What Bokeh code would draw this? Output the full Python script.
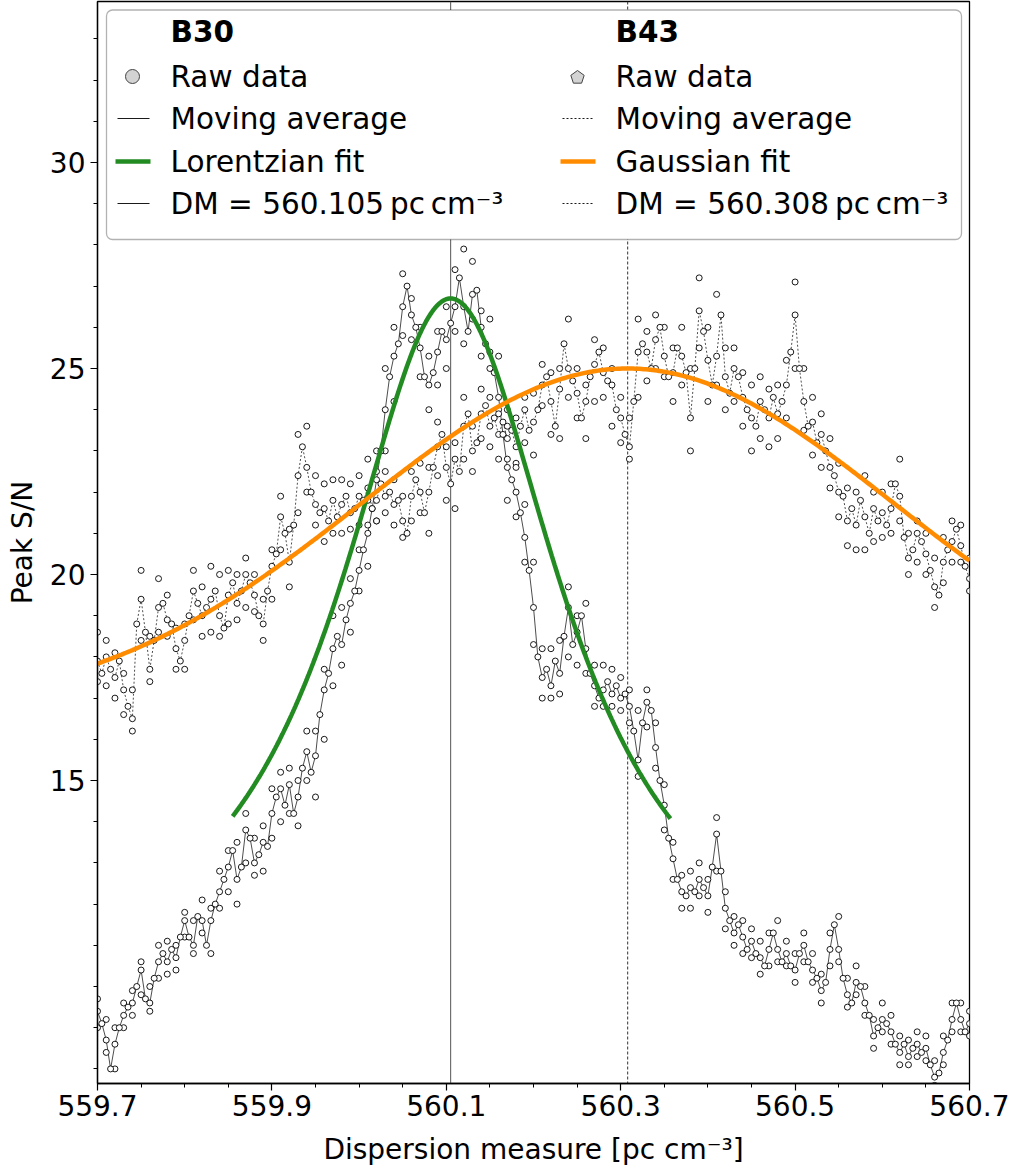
import numpy as np
from bokeh.plotting import figure
from bokeh.models import (FixedTicker, PrintfTickFormatter, Span, BoxAnnotation,
                          Label, Range1d)
from bokeh.embed import file_html
from bokeh.resources import INLINE

# ---------------- data ----------------
DM_START = 559.7
DM_STEP = 0.005      # step of the traced raw-data values
ENV_STEP = 0.01      # step of the read upper / lower edges of the point clouds

b30_snr = [
    9.4, 9.1, 8.7, 8.0, 8.6, 9.0, 9.3, 9.5, 9.6, 10.0,
    10.4, 9.7, 9.6, 10.2, 10.6, 10.8, 10.6, 10.9, 10.7, 11.2,
    11.6, 11.2, 11.0, 11.7, 11.6, 11.0, 11.6, 12.0, 12.3, 12.6,
    12.9, 13.3, 12.6, 12.9, 13.8, 13.6, 13.0, 13.2, 13.5, 13.4,
    14.2, 14.6, 14.8, 14.4, 14.9, 14.2, 14.6, 15.3, 15.7, 15.2,
    15.6, 16.6, 17.2, 17.6, 18.2, 18.5, 18.3, 18.9, 19.3, 19.6,
    20.1, 20.6, 21.0, 21.6, 22.3, 23.0, 24.0, 24.8, 25.3, 25.6,
    26.5, 27.0, 26.3, 26.0, 25.5, 24.8, 24.6, 24.9, 25.4, 25.9,
    25.7, 26.1, 26.5, 27.2, 26.5, 25.9, 26.8, 26.9, 26.0, 25.6,
    25.4, 24.9, 24.3, 23.4, 22.6, 22.3, 22.0, 21.5, 20.9, 20.1,
    19.2, 18.0, 17.5, 17.7, 17.3, 17.9, 17.6, 18.5, 19.2, 18.3,
    18.6, 19.0, 18.2, 17.6, 17.3, 17.0, 17.2, 17.4, 17.1, 17.3,
    17.0, 17.1, 16.8, 16.2, 15.5, 16.4, 16.9, 16.7, 15.8, 15.0,
    14.4, 13.6, 13.1, 12.6, 12.3, 12.2, 12.4, 12.3, 12.6, 12.4,
    12.2, 12.9, 13.7, 12.8, 11.9, 11.6, 11.3, 11.5, 11.2, 10.9,
    11.1, 10.8, 10.7, 10.5, 10.9, 11.3, 10.9, 10.6, 10.8, 10.5,
    10.4, 10.8, 11.0, 10.6, 10.4, 10.2, 9.9, 10.1, 10.9, 11.5,
    10.9, 10.2, 9.8, 9.6, 10.1, 10.0, 9.6, 9.3, 8.8, 9.0,
    9.2, 9.1, 8.9, 8.6, 8.4, 8.6, 8.3, 8.5, 8.6, 8.4,
    8.5, 8.1, 7.8, 7.9, 8.4, 8.7, 9.2, 9.6, 9.2, 8.9, 9.1,
]

b43_snr = [
    17.9, 17.6, 18.0, 17.7, 17.5, 17.9, 17.2, 16.8, 16.5, 18.8,
    19.4, 18.6, 17.7, 18.4, 19.2, 19.3, 18.9, 18.8, 18.2, 17.9,
    18.4, 19.0, 19.6, 19.3, 19.0, 19.2, 19.4, 19.6, 19.0, 18.7,
    19.5, 19.8, 19.3, 19.6, 20.0, 19.8, 19.5, 19.0, 18.8, 19.6,
    20.2, 20.5, 21.4, 21.0, 20.3, 21.2, 22.4, 23.1, 22.6, 22.0,
    21.7, 21.5, 21.6, 21.3, 21.8, 21.4, 21.7, 21.9, 21.5, 21.6,
    21.9, 21.8, 22.1, 21.6, 21.8, 22.2, 21.9, 22.0, 21.7, 21.8,
    21.3, 21.0, 21.9, 22.3, 22.0, 21.5, 22.0, 22.6, 23.1, 23.4,
    22.6, 22.2, 22.8, 22.5, 23.6, 23.9, 23.0, 23.2, 23.9, 24.1,
    23.6, 23.8, 23.4, 23.7, 23.3, 23.5, 23.1, 23.6, 24.0, 23.5,
    23.7, 24.0, 24.6, 24.8, 24.2, 23.6, 24.5, 25.6, 25.0, 24.7,
    24.4, 23.8, 24.2, 24.8, 25.1, 25.4, 24.9, 24.7, 24.6, 24.0,
    23.8, 23.4, 23.1, 24.2, 25.4, 25.6, 25.4, 25.0, 25.7, 26.0,
    25.3, 24.8, 24.9, 25.5, 25.3, 24.9, 23.8, 25.0, 26.4, 25.9,
    25.2, 24.6, 25.3, 26.3, 24.8, 24.4, 25.0, 24.8, 24.3, 24.0,
    23.8, 23.6, 24.2, 24.0, 23.8, 24.3, 23.9, 24.2, 24.6, 25.4,
    26.3, 25.0, 24.2, 23.6, 23.7, 23.2, 23.4, 23.0, 22.6, 22.4,
    22.0, 21.9, 21.3, 21.6, 21.2, 21.8, 21.4, 21.0, 21.6, 21.3,
    21.5, 21.2, 21.6, 22.2, 21.9, 20.9, 20.4, 20.6, 21.0, 20.8,
    20.5, 20.1, 19.7, 19.5, 20.3, 20.6, 20.8, 21.1, 20.7, 20.2, 19.9,
]

# upper and lower edges of the B30 point cloud, every 0.01
b30_hi = [
    9.7, 9.2, 9.0, 9.6, 9.9, 10.6, 10.0, 11.0, 11.1, 11.0,
    11.8, 11.6, 12.1, 11.9, 12.8, 13.3, 13.5, 14.2, 13.6, 13.9,
    14.8, 15.2, 15.3, 15.0, 16.2, 16.2, 17.7, 19.0, 19.2, 19.9,
    20.6, 21.8, 23.0, 25.0, 26.0, 27.3, 26.7, 26.0, 25.3, 25.9,
    26.5, 27.4, 27.9, 27.6, 26.4, 26.2, 25.3, 23.6, 22.6, 21.7,
    20.3, 18.2, 18.2, 18.4, 19.7, 19.0, 19.3, 17.8, 17.8, 17.7,
    17.5, 17.2, 16.7, 17.2, 16.4, 14.9, 13.5, 12.7, 12.8, 13.0,
    12.6, 14.1, 12.3, 11.7, 11.6, 11.4, 11.1, 11.3, 11.6, 11.1,
    10.8, 11.3, 10.8, 10.3, 11.3, 11.7, 10.2, 10.5, 10.0, 9.2,
    9.6, 9.3, 8.8, 8.7, 8.9, 8.8, 8.2, 8.8, 9.6, 9.6, 9.4,
]
b30_lo = [
    9.0, 8.4, 8.0, 9.0, 9.3, 9.8, 9.4, 10.2, 10.3, 10.4,
    11.2, 10.8, 11.3, 10.8, 11.9, 12.3, 12.0, 13.0, 12.7, 12.8,
    13.6, 14.0, 14.2, 13.9, 15.0, 14.6, 16.0, 17.3, 17.8, 18.6,
    19.6, 20.2, 21.3, 23.0, 24.2, 25.8, 25.7, 24.8, 24.0, 24.6,
    25.0, 25.9, 25.6, 26.2, 25.3, 25.0, 23.9, 21.8, 21.4, 20.3,
    18.3, 17.0, 17.0, 17.1, 18.0, 17.8, 17.6, 16.8, 16.8, 16.8,
    16.7, 16.4, 15.1, 16.3, 15.3, 13.8, 12.6, 11.9, 11.9, 12.2,
    11.8, 12.8, 11.4, 11.0, 10.8, 10.7, 10.3, 10.5, 10.6, 10.5,
    10.1, 10.6, 10.1, 9.6, 10.5, 10.6, 9.5, 9.8, 9.3, 8.5,
    8.9, 8.6, 8.1, 8.1, 8.3, 8.2, 7.6, 8.1, 8.9, 8.9, 8.8,
]
# upper and lower edges of the B43 point cloud, every 0.01
b43_hi = [
    18.6, 18.4, 18.1, 17.6, 17.2, 20.1, 18.5, 19.9, 19.5, 18.7,
    18.8, 20.1, 19.7, 20.2, 20.0, 20.1, 20.0, 20.4, 20.0, 19.4,
    20.6, 21.9, 21.1, 23.4, 23.6, 22.4, 22.2, 22.3, 22.3, 22.2,
    22.4, 22.8, 22.5, 22.5, 22.3, 21.9, 22.5, 22.7, 22.6, 23.7,
    23.1, 23.2, 24.3, 23.6, 24.5, 24.3, 24.0, 24.0, 23.8, 24.3,
    24.4, 25.1, 24.9, 25.0, 26.2, 25.0, 24.6, 25.7, 25.5, 25.0,
    24.3, 23.8, 26.2, 25.9, 26.3, 26.0, 25.5, 26.0, 25.0, 27.2,
    26.0, 26.8, 25.5, 25.5, 24.9, 24.6, 24.8, 24.5, 24.6, 25.2,
    27.1, 25.0, 24.3, 23.9, 23.3, 22.7, 22.1, 22.0, 22.4, 22.0,
    22.0, 22.2, 22.8, 21.0, 21.3, 21.0, 20.4, 20.9, 21.3, 21.2, 20.4,
]
b43_lo = [
    17.4, 17.3, 17.0, 16.6, 16.2, 18.4, 17.4, 18.6, 18.5, 17.7,
    17.7, 18.9, 18.5, 18.6, 18.5, 18.8, 18.9, 19.2, 19.1, 18.4,
    19.4, 20.6, 19.7, 21.5, 22.0, 21.2, 20.8, 21.0, 21.0, 21.1,
    21.2, 21.2, 21.3, 21.5, 21.2, 20.9, 21.3, 21.5, 21.0, 22.4,
    21.8, 21.6, 22.8, 22.5, 23.3, 23.1, 22.8, 22.8, 22.7, 23.2,
    22.9, 24.1, 23.4, 23.3, 24.3, 23.8, 23.3, 24.2, 24.3, 23.6,
    23.2, 22.8, 24.3, 24.7, 25.0, 24.8, 24.2, 24.6, 23.0, 25.5,
    24.2, 24.6, 24.0, 24.2, 23.6, 23.0, 23.3, 23.1, 23.3, 23.8,
    25.0, 23.5, 22.9, 22.6, 22.1, 21.4, 20.7, 20.6, 20.6, 20.8,
    20.9, 21.0, 21.3, 20.0, 20.3, 20.0, 19.2, 19.8, 20.3, 20.3, 19.6,
]

# fit parameters
LOR_X0, LOR_AMP, LOR_GAMMA, LOR_OFFSET = 560.105, 17.4, 0.155, 9.3
LOR_LO, LOR_HI = 559.855, 560.357
GAU_X0, GAU_AMP, GAU_SIGMA, GAU_OFFSET = 560.308, 8.3, 0.305, 16.7

DM_B30 = 560.105
DM_B43 = 560.308

x_ticks = [559.7, 559.9, 560.1, 560.3, 560.5, 560.7]
y_ticks = [15, 20, 25, 30]

dm = DM_START + DM_STEP * np.arange(len(b30_snr))
dm_env = DM_START + ENV_STEP * np.arange(len(b30_hi))

xl = np.linspace(LOR_LO, LOR_HI, 300)
yl = LOR_OFFSET + LOR_AMP / (1.0 + ((xl - LOR_X0) / LOR_GAMMA) ** 2)
xg = np.linspace(559.7, 560.7, 400)
yg = GAU_OFFSET + GAU_AMP * np.exp(-0.5 * ((xg - GAU_X0) / GAU_SIGMA) ** 2)

# ---------------- figure ----------------
FONT = "DejaVu Sans"
FS = "28px"
LFS = "29.5px"
Y0, Y1 = 7.646, 33.908

p = figure(frame_width=872, frame_height=1082, output_backend="svg",
           toolbar_location=None, title_location=None,
           x_range=Range1d(559.7, 560.7), y_range=Range1d(Y0, Y1),
           min_border_left=97, min_border_right=40, min_border_top=1,
           min_border_bottom=70)
p.background_fill_color = "white"
p.border_fill_color = "white"
p.outline_line_color = "black"
p.outline_line_width = 1.3
p.xgrid.visible = False
p.ygrid.visible = False

for ax in (p.xaxis[0], p.yaxis[0]):
    ax.axis_line_width = 1.3
    ax.major_tick_out = 7
    ax.major_tick_in = 0
    ax.minor_tick_out = 4
    ax.minor_tick_in = 0
    ax.major_tick_line_width = 1.2
    ax.minor_tick_line_width = 1.0
    ax.major_label_text_font = FONT
    ax.major_label_text_font_size = FS
    ax.major_label_text_color = "black"
    ax.axis_label_text_font = FONT
    ax.axis_label_text_font_size = FS
    ax.axis_label_text_font_style = "normal"
    ax.axis_label_text_color = "black"

p.xaxis.ticker = FixedTicker(ticks=x_ticks,
                             minor_ticks=list(np.round(np.arange(559.7, 560.70001, 0.05), 3)))
p.xaxis.formatter = PrintfTickFormatter(format="%.1f")
p.xaxis.axis_label = "Dispersion measure [pc cm\u207b\u00b3]"
p.xaxis.major_label_standoff = 4
p.xaxis.axis_label_standoff = 14

p.yaxis.ticker = FixedTicker(ticks=y_ticks, minor_ticks=list(range(8, 34)))
p.yaxis.axis_label = "Peak S/N"
p.yaxis.major_label_standoff = 5
p.yaxis.axis_label_standoff = 8

# vertical DM lines
p.add_layout(Span(location=DM_B30, dimension="height", line_color="#555555",
                  line_width=1.0, level="underlay"))
p.add_layout(Span(location=DM_B43, dimension="height", line_color="#333333",
                  line_width=1.0, line_dash="3 2", level="underlay"))

# raw data + moving averages
pt = dict(marker="circle", size=6, fill_color="white", line_color="black",
          line_width=0.9)
p.line(dm, b43_snr, line_color="black", line_width=0.7, line_dash="2 2")
p.line(dm, b30_snr, line_color="black", line_width=0.7)
p.scatter(dm_env, b43_hi, **pt)
p.scatter(dm_env, b43_lo, **pt)
p.scatter(dm, b43_snr, **pt)
p.scatter(dm_env, b30_hi, **pt)
p.scatter(dm_env, b30_lo, **pt)
p.scatter(dm, b30_snr, **pt)

# fits
p.line(xl, yl, line_color="#228B22", line_width=4.5)
p.line(xg, yg, line_color="#FF8C00", line_width=4.5)

# ---------------- legend (built by hand, page pixel layout) ----------------
def lx(px):
    return 559.7 + (px - 97) / 872.0

def ly(py):
    return Y1 - (py - 1) / 41.2

p.add_layout(BoxAnnotation(left=lx(106), right=lx(961), top=ly(9.5), bottom=ly(239),
                           fill_color="white", fill_alpha=1.0, line_color="black",
                           line_width=1.3, border_radius=6, level="annotation"))

rows = [31, 76, 118, 161, 203]
cols = [(170, 117, 149, 132), (615, 562, 594, 577)]
titles = ["B30", "B43"]
texts = [["Raw data", "Moving average", "Lorentzian fit",
          "DM = 560.105\u2009pc\u2009cm\u207b\u00b3"],
         ["Raw data", "Moving average", "Gaussian fit",
          "DM = 560.308\u2009pc\u2009cm\u207b\u00b3"]]

for ci, (tx, h0, h1, hc) in enumerate(cols):
    p.add_layout(Label(x=lx(tx), y=ly(rows[0]), text=titles[ci], text_font=FONT,
                       text_font_size=LFS, text_font_style="bold",
                       text_color="black", text_baseline="middle", level="overlay"))
    for ri, t in enumerate(texts[ci]):
        p.add_layout(Label(x=lx(tx), y=ly(rows[ri + 1]), text=t, text_font=FONT,
                           text_font_size=LFS, text_color="black",
                           text_baseline="middle", level="overlay"))
    dash = "solid" if ci == 0 else "2 2"
    p.line([lx(h0), lx(h1)], [ly(rows[2])] * 2, line_color="black",
           line_width=0.9, line_dash=dash, level="overlay")
    p.line([lx(h0 - 2), lx(h1 + 1)], [ly(rows[3])] * 2,
           line_color="#228B22" if ci == 0 else "#FF8C00",
           line_width=4.5, level="overlay")
    p.line([lx(h0), lx(h1)], [ly(rows[4])] * 2, line_color="black",
           line_width=0.9, line_dash=dash, level="overlay")

p.scatter([lx(132)], [ly(rows[1])], marker="circle", size=14, fill_color="#d3d3d3",
          line_color="#444444", line_width=1.0, level="overlay")
ang = np.pi / 2 + np.arange(5) * 2 * np.pi / 5
p.patch(lx(577 + 7.0 * np.cos(ang)), ly(rows[1] - 7.0 * np.sin(ang) + 1),
        fill_color="#d3d3d3", line_color="#444444", line_width=1.0, level="overlay")

open("out.html", "w").write(file_html(p, INLINE))
